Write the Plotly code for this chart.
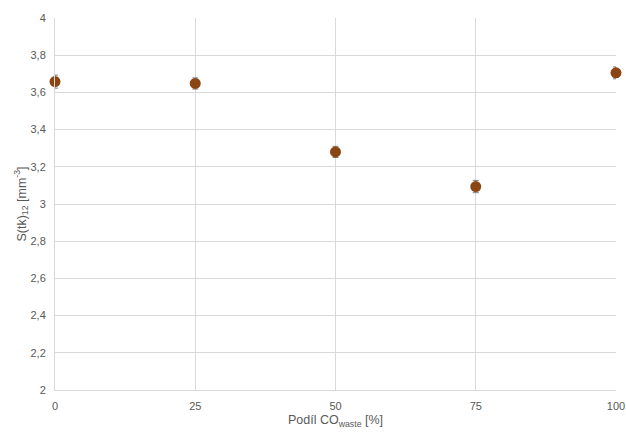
import plotly.graph_objects as go

podil = [0, 25, 50, 75, 100]
s_tk = [3.658, 3.648, 3.280, 3.094, 3.705]
err = [0.035, 0.03, 0.03, 0.033, 0.032]
y_ticks = [2, 2.2, 2.4, 2.6, 2.8, 3, 3.2, 3.4, 3.6, 3.8, 4]
y_labels = ["2", "2,2", "2,4", "2,6", "2,8", "3", "3,2", "3,4", "3,6", "3,8", "4"]
x_ticks = [0, 25, 50, 75, 100]

grey = "#595959"
tick_font = dict(family="Liberation Sans, Arial, sans-serif", size=11, color=grey)
title_font = dict(family="Liberation Sans, Arial, sans-serif", size=12.5, color=grey)

fig = go.Figure()
fig.add_trace(go.Scatter(
    x=podil, y=s_tk, mode="markers",
    marker=dict(size=11, color="#8B4513", line=dict(width=0)),
    error_y=dict(type="data", array=err, color="#7f7f7f", thickness=1, width=3),
    cliponaxis=False, showlegend=False, hoverinfo="skip",
))

fig.update_layout(
    width=626, height=432,
    margin=dict(l=55, r=10, t=18, b=42, autoexpand=False),
    plot_bgcolor="white", paper_bgcolor="white",
    font=tick_font,
    xaxis=dict(range=[0, 100], tickvals=x_ticks, showgrid=True, gridcolor="#d9d9d9",
               zeroline=False, showline=True, linecolor="#d9d9d9", ticks="", automargin=False,
               tickfont=tick_font, ticklabelstandoff=6,
               title=dict(text="Podíl CO<sub>waste</sub> [%]", font=title_font, standoff=4)),
    yaxis=dict(range=[2, 4], tickvals=y_ticks, ticktext=y_labels, showgrid=True, gridcolor="#d9d9d9",
               zeroline=False, showline=True, linecolor="#d9d9d9", ticks="", automargin=False,
               tickfont=tick_font, ticklabelstandoff=6,
               title=dict(text="S(tk)<sub>12</sub> [mm<sup>-3</sup>]", font=title_font, standoff=1)),
)
fig.write_html("out.html", config={"displayModeBar": False},
               post_script="document.body.style.margin='0';document.body.style.overflow='hidden';")
